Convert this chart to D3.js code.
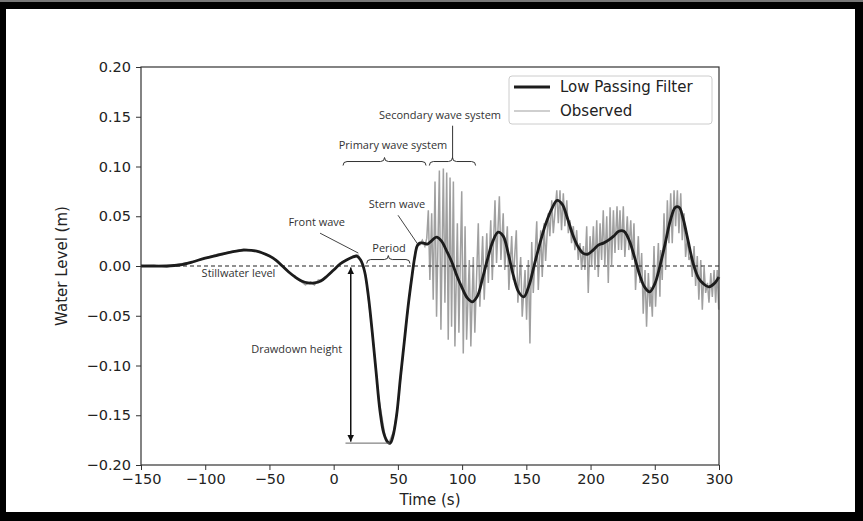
<!DOCTYPE html>
<html>
<head>
<meta charset="utf-8">
<script src="https://cdn.jsdelivr.net/npm/d3@7"></script>
<style>
  html, body { margin: 0; padding: 0; background: #fff; }
  svg { display: block; }
</style>
</head>
<body>
<svg id="chart" width="863" height="521"></svg>
<script>
// tick labels
const xTicks = [-150, -100, -50, 0, 50, 100, 150, 200, 250, 300];
const yTicks = [-0.20, -0.15, -0.10, -0.05, 0.00, 0.05, 0.10, 0.15, 0.20];

// low passing filter, [time s, level m]
const filterT = [-150, -130, -120, -110, -100, -90, -80, -70, -60, -50, -45, -40, -35, -30, -25, -20, -15, -10, -5, 0,
                 5, 10, 15, 18, 21, 24, 27, 30, 33, 36, 39, 42, 44, 46, 49, 52, 55, 58, 61, 63, 65, 67, 70, 73, 76,
                 80, 84, 88, 92, 96, 100, 104, 108, 112, 116, 120, 124, 128, 132, 136, 140, 144, 148, 152, 156, 160,
                 165, 170, 174, 178, 182, 186, 190, 194, 198, 202, 206, 210, 214, 218, 222, 226, 230, 234, 238, 242,
                 246, 250, 254, 258, 262, 266, 269, 272, 276, 280, 284, 288, 292, 296, 300];
const filterV = [0.000, 0.000, 0.001, 0.004, 0.008, 0.011, 0.014, 0.016, 0.015, 0.010, 0.006, 0.000, -0.006, -0.011,
                 -0.015, -0.017, -0.017, -0.015, -0.010, -0.004, 0.002, 0.006, 0.009, 0.010, 0.006, -0.005, -0.030,
                 -0.066, -0.106, -0.145, -0.168, -0.177, -0.178, -0.172, -0.150, -0.112, -0.076, -0.040, -0.010,
                 0.008, 0.020, 0.023, 0.023, 0.022, 0.025, 0.029, 0.025, 0.015, 0.004, -0.010, -0.022, -0.032,
                 -0.036, -0.030, -0.012, 0.008, 0.025, 0.034, 0.030, 0.012, -0.010, -0.026, -0.031, -0.020, 0.000,
                 0.020, 0.042, 0.058, 0.066, 0.062, 0.048, 0.032, 0.020, 0.013, 0.012, 0.016, 0.021, 0.023, 0.026,
                 0.030, 0.035, 0.035, 0.026, 0.010, -0.008, -0.021, -0.026, -0.018, 0.000, 0.022, 0.045, 0.059,
                 0.059, 0.048, 0.025, 0.002, -0.012, -0.018, -0.021, -0.018, -0.011];

// observed, calm part before the secondary waves
const obsCalmT = [-150, -140, -130, -120, -110, -100, -90, -80, -70, -60, -50, -40, -30, -25, -22, -18, -15, -12, -8,
                  -4, 0, 5, 10, 15, 19, 22, 25, 30, 35, 40, 43, 47, 50, 55, 60, 63, 65, 67, 69, 71, 72.5];
const obsCalmV = [0.000, 0.001, -0.001, 0.002, 0.004, 0.008, 0.012, 0.014, 0.017, 0.015, 0.010, 0.001, -0.012,
                  -0.016, -0.019, -0.016, -0.019, -0.014, -0.014, -0.008, -0.004, 0.003, 0.006, 0.010, 0.011, 0.004,
                  -0.010, -0.066, -0.132, -0.171, -0.178, -0.165, -0.140, -0.076, -0.018, 0.010, 0.022, 0.021,
                  0.026, 0.020, 0.028];

// observed, oscillating part: crest and trough of each spike
const obsSpikeT = [73.7, 76.3, 78.9, 82.3, 85.4, 88, 90.6, 93.2, 96.3, 99.7, 102.3, 105.6, 108.7, 112.6, 116, 119.2,
                   122.3, 125.6, 129, 132, 135.2, 138.6, 142.2, 145.6, 149, 151.6, 154.2, 158.1, 161.2, 163.8, 167.1,
                   169.8, 173.7, 176.2, 178.8, 181.5, 184, 186.6, 189.2, 191.8, 194.4, 197, 199.6, 202.2, 204.8,
                   207.4, 209.9, 212.6, 215.2, 217.8, 220.6, 222.9, 225.5, 228.6, 231.3, 233.8, 237.2, 239.8, 242.4,
                   245, 246.9, 249.4, 252.8, 254.6, 257.2, 259.8, 262.4, 265, 267.6, 270.2, 272.8, 275.4, 278, 280.6,
                   283.1, 285.8, 288.4, 291, 293.6, 296.2, 298.6];
const obsSpikeHi = [0.056, 0.053, 0.085, 0.096, 0.098, 0.094, 0.089, 0.085, 0.043, 0.075, 0.040, 0.006, 0.009, 0.043,
                    0.030, 0.033, 0.046, 0.066, 0.070, 0.053, 0.040, 0.030, 0.036, 0.009, -0.004, 0.006, 0.024, 0.045,
                    0.036, 0.043, 0.053, 0.066, 0.076, 0.076, 0.073, 0.066, 0.046, 0.040, 0.036, 0.023, 0.020, 0.040,
                    0.030, 0.040, 0.046, 0.043, 0.056, 0.050, 0.059, 0.056, 0.060, 0.056, 0.060, 0.050, 0.046, 0.043,
                    0.030, 0.013, -0.004, -0.007, -0.021, 0.020, 0.023, 0.016, 0.053, 0.066, 0.073, 0.076, 0.076,
                    0.073, 0.053, 0.030, 0.010, 0.020, 0.010, 0.006, -0.001, -0.017, -0.007, -0.004, -0.004];
const obsSpikeLo = [-0.014, -0.034, -0.051, -0.064, -0.037, -0.074, -0.061, -0.081, -0.067, -0.088, -0.074, -0.081,
                    -0.067, -0.041, -0.034, -0.017, -0.014, 0.003, 0.006, -0.004, -0.024, -0.014, -0.037, -0.051,
                    -0.054, -0.078, -0.027, -0.024, -0.011, 0.005, 0.030, 0.033, 0.043, 0.036, 0.040, 0.033, 0.023,
                    0.016, 0.006, -0.004, -0.004, -0.027, 0.001, -0.004, -0.011, 0.006, 0.001, -0.017, 0.001, 0.013,
                    0.016, 0.016, 0.009, 0.016, 0.006, -0.024, -0.017, -0.048, -0.061, -0.041, -0.051, -0.041,
                    -0.031, -0.014, -0.004, 0.023, 0.023, 0.040, 0.033, 0.026, 0.009, 0.006, -0.011, -0.020, -0.034,
                    -0.044, -0.027, -0.037, -0.031, -0.037, -0.044];

const svg = d3.select('#chart');
const W = 863, H = 521;
const plot = {left: 141, right: 719, top: 67, bottom: 465};

// black frame around the picture
svg.append('rect').attr('width', W).attr('height', H).attr('fill', '#000');
svg.append('rect').attr('width', W).attr('height', 2).attr('fill', '#777');
svg.append('rect').attr('x', 6).attr('y', 9).attr('width', 849).attr('height', 503).attr('fill', '#fff');

const x = d3.scaleLinear().domain([-150, 300]).range([plot.left, plot.right]);
const y = d3.scaleLinear().domain([-0.2, 0.2]).range([plot.bottom, plot.top]);

const tickFont = 'DejaVu Sans, sans-serif';
const noteFont = 'Open Sans, sans-serif';

const xAxis = svg.append('g')
    .attr('transform', `translate(0,${plot.bottom})`)
    .call(d3.axisBottom(x).tickValues(xTicks).tickSize(5).tickPadding(4).tickFormat(d3.format('d')));
const yAxis = svg.append('g')
    .attr('transform', `translate(${plot.left},0)`)
    .call(d3.axisLeft(y).tickValues(yTicks).tickSize(5).tickPadding(5).tickFormat(d3.format('.2f')));
[xAxis, yAxis].forEach(g => {
  g.select('.domain').remove();
  g.selectAll('line').attr('stroke', '#333').attr('stroke-width', 1);
  g.selectAll('text').attr('fill', '#222').style('font-family', tickFont).style('font-size', '14.5px');
});

svg.append('text')
    .attr('x', (plot.left + plot.right) / 2).attr('y', 505)
    .attr('text-anchor', 'middle')
    .style('font-family', tickFont).style('font-size', '15px').attr('fill', '#222')
    .text('Time (s)');
svg.append('text')
    .attr('transform', `translate(67,${(plot.top + plot.bottom) / 2}) rotate(-90)`)
    .attr('text-anchor', 'middle')
    .style('font-family', tickFont).style('font-size', '15px').attr('fill', '#222')
    .text('Water Level (m)');

// observed
const obsPoints = obsCalmT.map((t, i) => [t, obsCalmV[i]])
    .concat(obsSpikeT.flatMap((t, i) => [[t, obsSpikeHi[i]], [t + 1.2, obsSpikeLo[i]]]));
const line = d3.line().x(d => x(d[0])).y(d => y(d[1]));
svg.append('path')
    .datum(obsPoints)
    .attr('d', line)
    .attr('fill', 'none')
    .attr('stroke', '#a0a0a0')
    .attr('stroke-width', 1.5);

// stillwater level
svg.append('line')
    .attr('x1', x(-150)).attr('x2', x(300))
    .attr('y1', y(0)).attr('y2', y(0))
    .attr('stroke', '#222').attr('stroke-width', 1.2).attr('stroke-dasharray', '4,3');

// low passing filter
const smooth = d3.line().x(d => x(d[0])).y(d => y(d[1])).curve(d3.curveCatmullRom.alpha(0.5));
svg.append('path')
    .datum(filterT.map((t, i) => [t, filterV[i]]))
    .attr('d', smooth)
    .attr('fill', 'none')
    .attr('stroke', '#1c1c1c')
    .attr('stroke-width', 2.8)
    .attr('stroke-linejoin', 'round');

// spines
svg.append('rect')
    .attr('x', plot.left).attr('y', plot.top)
    .attr('width', plot.right - plot.left).attr('height', plot.bottom - plot.top)
    .attr('fill', 'none').attr('stroke', '#333').attr('stroke-width', 1.2);

// annotations
const notes = svg.append('g').style('font-family', noteFont).style('font-size', '11px').attr('fill', '#333');
function note(t, v, label) {
  notes.append('text').attr('x', x(t)).attr('y', y(v)).attr('dy', '0.35em')
      .attr('text-anchor', 'middle').text(label);
}
function segment(t0, v0, t1, v1, color) {
  svg.append('line')
      .attr('x1', x(t0)).attr('y1', y(v0)).attr('x2', x(t1)).attr('y2', y(v1))
      .attr('stroke', color || '#444').attr('stroke-width', 1);
}
function brace(t0, t1, v) {
  const x0 = x(t0), x1 = x(t1), xm = (x0 + x1) / 2, yb = y(v), h = 4;
  const p = d3.path();
  p.moveTo(x0, yb + h);
  p.quadraticCurveTo(x0, yb, x0 + h, yb);
  p.lineTo(xm - h, yb);
  p.quadraticCurveTo(xm, yb, xm, yb - h);
  p.quadraticCurveTo(xm, yb, xm + h, yb);
  p.lineTo(x1 - h, yb);
  p.quadraticCurveTo(x1, yb, x1, yb + h);
  svg.append('path').attr('d', p.toString()).attr('fill', 'none').attr('stroke', '#333').attr('stroke-width', 1);
}

note(82.8, 0.152, 'Secondary wave system');
segment(92.6, 0.141, 92.6, 0.108, '#333');
note(46.2, 0.121, 'Primary wave system');
brace(7.3, 71.9, 0.105);
brace(74.5, 110.5, 0.105);
note(49.3, 0.062, 'Stern wave');
segment(50.1, 0.051, 64.9, 0.023);
note(-13.2, 0.044, 'Front wave');
segment(-10.6, 0.033, 19.2, 0.013);
note(43.1, 0.018, 'Period');
brace(25.7, 59.4, 0.0065);
note(-74.1, -0.007, 'Stillwater level');
note(-28.8, -0.084, 'Drawdown height');

// drawdown arrow
svg.append('defs').append('marker')
    .attr('id', 'head').attr('viewBox', '0 0 10 10').attr('refX', 10).attr('refY', 5)
    .attr('markerWidth', 7).attr('markerHeight', 7).attr('orient', 'auto-start-reverse')
    .attr('markerUnits', 'userSpaceOnUse')
    .append('path').attr('d', 'M0,0 L10,5 L0,10 Z').attr('fill', '#111');
svg.append('line')
    .attr('x1', x(13.3)).attr('x2', x(13.3)).attr('y1', y(-0.0015)).attr('y2', y(-0.1765))
    .attr('stroke', '#111').attr('stroke-width', 1.5)
    .attr('marker-start', 'url(#head)').attr('marker-end', 'url(#head)');
segment(9.2, -0.178, 43.5, -0.178, '#666');

// legend
const legend = svg.append('g').attr('transform', 'translate(509,76)');
legend.append('rect').attr('width', 203).attr('height', 48).attr('rx', 3)
    .attr('fill', '#fff').attr('fill-opacity', 0.85).attr('stroke', '#ccc');
const entries = [
  {label: 'Low Passing Filter', color: '#1c1c1c', width: 2.8},
  {label: 'Observed', color: '#a0a0a0', width: 1.2}
];
entries.forEach((e, i) => {
  const yy = 11 + i * 24;
  legend.append('line').attr('x1', 5).attr('x2', 41).attr('y1', yy).attr('y2', yy)
      .attr('stroke', e.color).attr('stroke-width', e.width);
  legend.append('text').attr('x', 51).attr('y', yy).attr('dy', '0.35em')
      .style('font-family', tickFont).style('font-size', '15px').attr('fill', '#222')
      .text(e.label);
});
</script>
</body>
</html>
